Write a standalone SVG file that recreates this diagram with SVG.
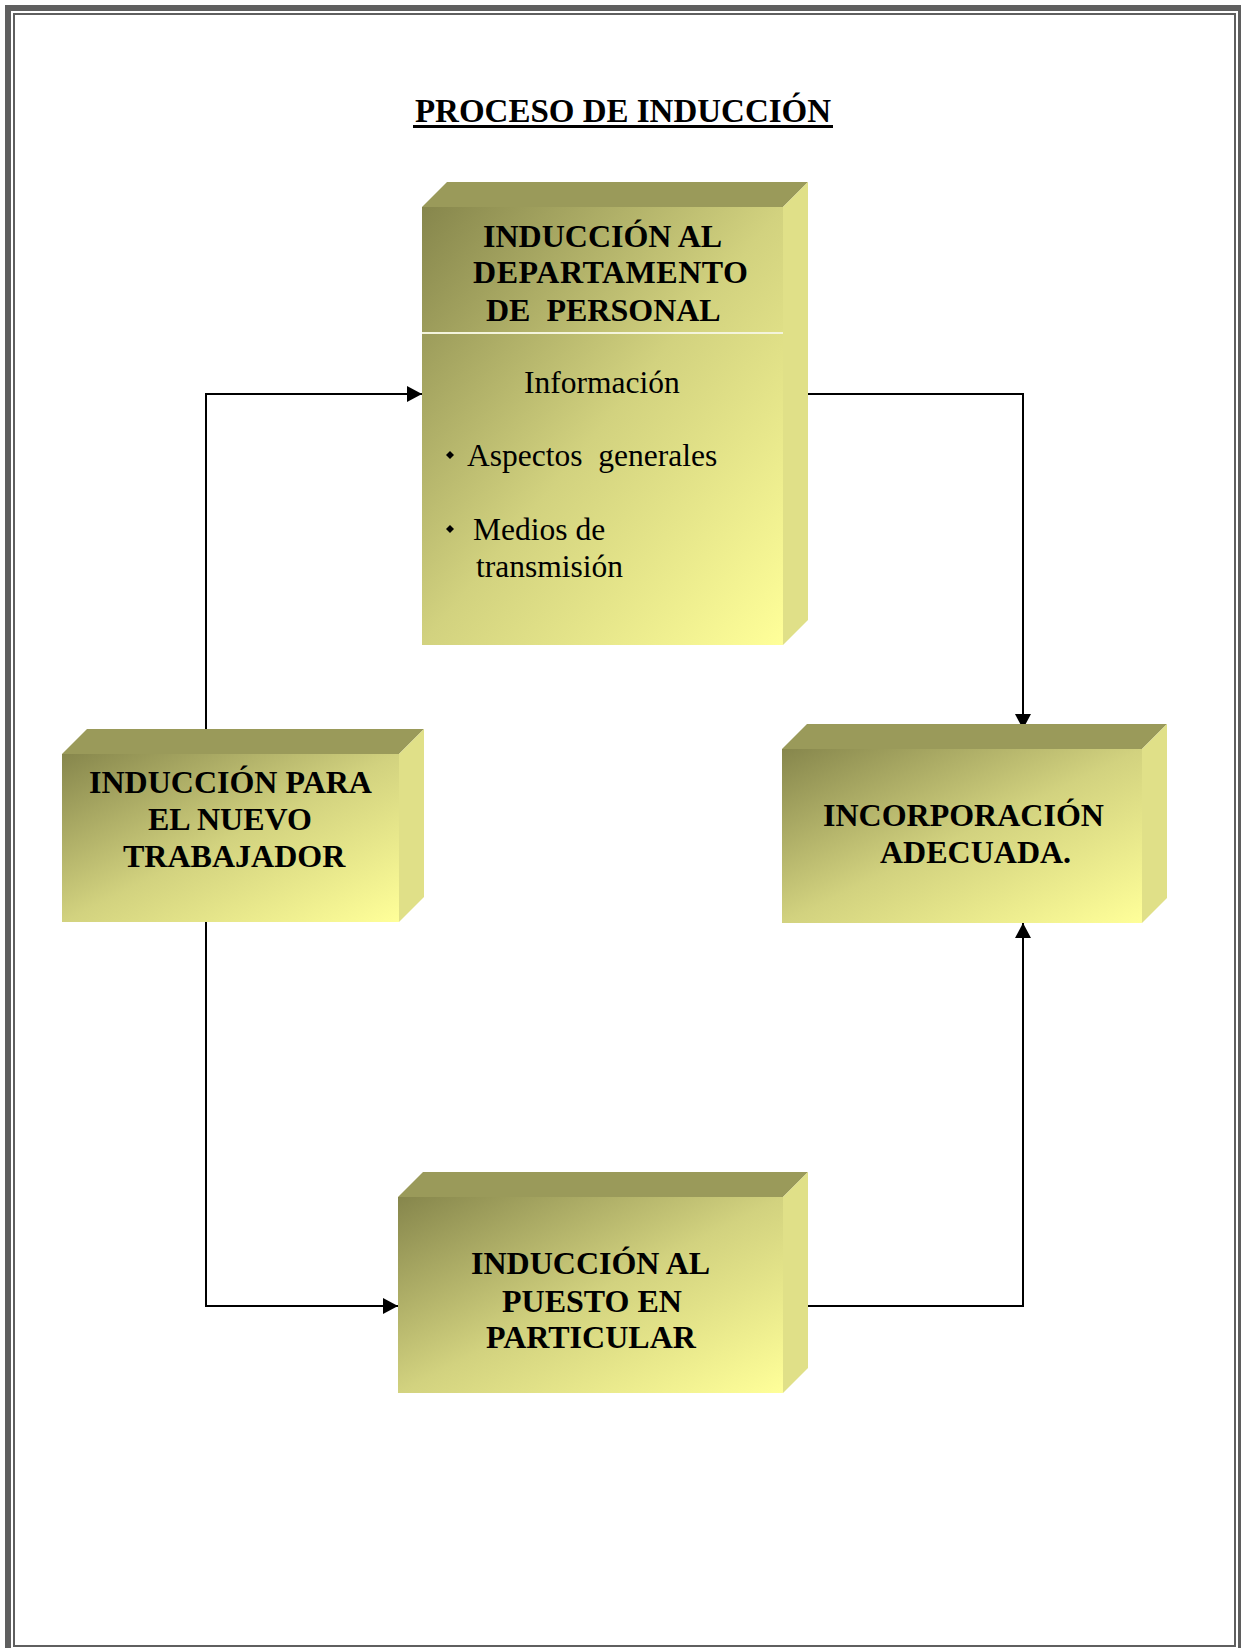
<svg xmlns="http://www.w3.org/2000/svg" width="1241" height="1648" viewBox="0 0 1241 1648">
  <defs>
    <linearGradient id="faceGrad" x1="0" y1="0" x2="1" y2="1">
      <stop offset="0" stop-color="#86864c"/>
      <stop offset="0.5" stop-color="#d2d27f"/>
      <stop offset="1" stop-color="#ffff99"/>
    </linearGradient>
    <marker id="arrow" markerUnits="userSpaceOnUse" markerWidth="16" markerHeight="18" refX="15" refY="8" orient="auto">
      <path d="M0,0 L15,8 L0,16 Z" fill="#000"/>
    </marker>
  </defs>
  <style>
    .front { fill: url(#faceGrad); }
    .top { fill: #9a9a5a; }
    .side { fill: #e0e088; }
    .head { font-family: "Liberation Serif", "Times New Roman", serif; font-weight: bold; font-size: 32px; fill: #000; white-space: pre; }
    .body { font-family: "Liberation Serif", "Times New Roman", serif; font-size: 31.5px; fill: #000; white-space: pre; }
    .title { font-family: "Liberation Serif", "Times New Roman", serif; font-weight: bold; font-size: 33px; fill: #000; }
    .conn { fill: none; stroke: #000; stroke-width: 2; }
  </style>

  <!-- page frame -->
  <rect x="8" y="8" width="1233" height="1645" fill="none" stroke="#5f5f5f" stroke-width="6"/>
  <rect x="14" y="14" width="1221" height="1632" fill="none" stroke="#5f5f5f" stroke-width="2"/>

  <!-- title -->
  <text class="title" x="623" y="122" text-anchor="middle">PROCESO DE INDUCCIÓN</text>
  <rect x="413" y="125" width="420" height="3" fill="#000"/>

  <!-- connectors -->
  <g id="connectors">
    <path class="conn" d="M206,729 V394 H422" marker-end="url(#arrow)"/>
    <path class="conn" d="M808,394 H1023 V729" marker-end="url(#arrow)"/>
    <path class="conn" d="M206,922 V1306 H398" marker-end="url(#arrow)"/>
    <path class="conn" d="M808,1306 H1023 V923" marker-end="url(#arrow)"/>
  </g>

  <!-- department induction -->
  <g id="node-departamento">
    <polygon class="top" points="422,207 447,182 808,182 783,207"/>
    <polygon class="side" points="783,207 808,182 808,620 783,645"/>
    <rect class="front" x="422" y="207" width="361" height="438"/>
    <line x1="422" y1="333" x2="783" y2="333" stroke="#f4f4dc" stroke-width="2"/>
    <text class="head" x="483" y="247">INDUCCIÓN AL</text>
    <text class="head" x="473" y="283" textLength="275" lengthAdjust="spacing">DEPARTAMENTO</text>
    <text class="head" x="486" y="321">DE  PERSONAL</text>
    <text class="body" x="524" y="393">Información</text>
    <path d="M450,451 L454,455 L450,459 L446,455 Z" fill="#000"/>
    <text class="body" x="467" y="466">Aspectos  generales</text>
    <path d="M450,525 L454,529 L450,533 L446,529 Z" fill="#000"/>
    <text class="body" x="473" y="540">Medios de</text>
    <text class="body" x="476" y="577">transmisión</text>
  </g>

  <!-- new worker induction -->
  <g id="node-nuevo-trabajador">
    <polygon class="top" points="62,754 87,729 424,729 399,754"/>
    <polygon class="side" points="399,754 424,729 424,897 399,922"/>
    <rect class="front" x="62" y="754" width="337" height="168"/>
    <text class="head" x="89" y="793">INDUCCIÓN PARA</text>
    <text class="head" x="148" y="830">EL NUEVO</text>
    <text class="head" x="123" y="867">TRABAJADOR</text>
  </g>

  <!-- incorporation -->
  <g id="node-incorporacion">
    <polygon class="top" points="782,749 807,724 1167,724 1142,749"/>
    <polygon class="side" points="1142,749 1167,724 1167,898 1142,923"/>
    <rect class="front" x="782" y="749" width="360" height="174"/>
    <text class="head" x="823" y="826">INCORPORACIÓN</text>
    <text class="head" x="880" y="863">ADECUADA.</text>
  </g>

  <!-- job induction -->
  <g id="node-puesto">
    <polygon class="top" points="398,1197 423,1172 808,1172 783,1197"/>
    <polygon class="side" points="783,1197 808,1172 808,1368 783,1393"/>
    <rect class="front" x="398" y="1197" width="385" height="196"/>
    <text class="head" x="471" y="1274">INDUCCIÓN AL</text>
    <text class="head" x="502" y="1312">PUESTO EN</text>
    <text class="head" x="486" y="1348">PARTICULAR</text>
  </g>
</svg>
